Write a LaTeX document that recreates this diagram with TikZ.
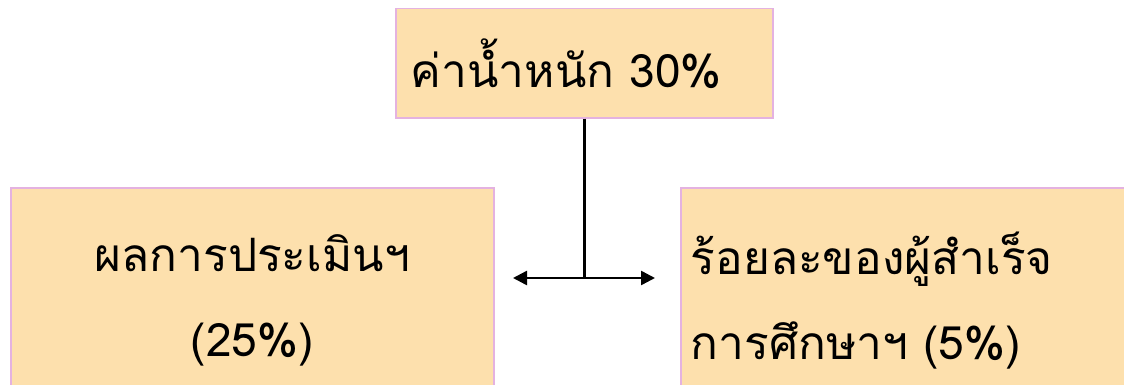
\documentclass[tikz,border=0pt]{standalone}
\usepackage{fontspec}
\newfontfamily\thaifont[Script=Thai]{Loma}
\usepackage{tikz}
\usetikzlibrary{arrows.meta}
\definecolor{boxfill}{HTML}{FDE0AD}
\definecolor{boxline}{HTML}{E4B2E0}
\tikzset{
  weightbox/.style={draw=boxline,fill=boxfill,line width=1.5pt,rectangle,anchor=north west,inner sep=0pt,
    font=\thaifont\fontsize{46}{85}\selectfont}
}

\begin{document}
\begin{tikzpicture}[x=1pt,y=1pt]
    \useasboundingbox (0,0) rectangle (1124,384);
    % Boxes
    \node[weightbox,minimum width=377,minimum height=109,text width=347,align=left] (weight) at (395,376) {\raisebox{-3pt}{ค่าน้ำหนัก 30\%}};
    \node[weightbox,minimum width=483,minimum height=226,text width=483,align=center] (assess) at (10,197) {ผลการประเมินฯ\\(25\%)};
    \node[weightbox,minimum width=460,minimum height=226,text width=440,align=left] (grad) at (680,197) {ร้อยละของผู้สำเร็จ\\การศึกษาฯ (5\%)};

    % Connectors
    \coordinate (split) at (weight.south |- 0,106);
    \coordinate (lefttip) at (513,106);
    \coordinate (righttip) at (655,106);
    \draw[line width=2.5pt] (weight.south) -- (split);
    \draw[line width=2.5pt,{Triangle[length=14pt,width=14pt]}-{Triangle[length=14pt,width=14pt]}] (lefttip) -- (righttip);
\end{tikzpicture}
\end{document}
